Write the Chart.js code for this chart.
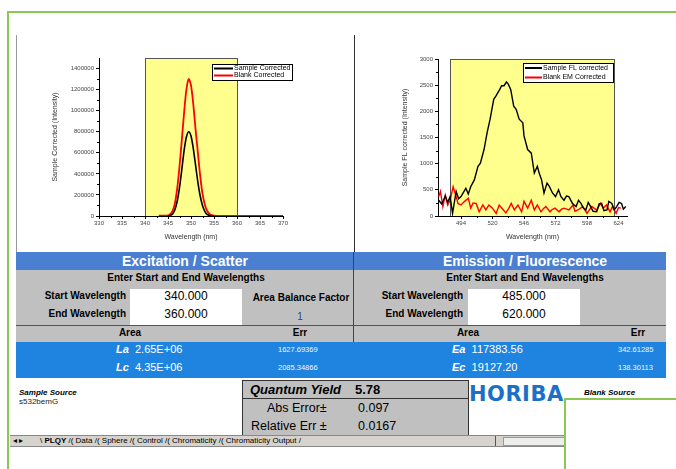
<!DOCTYPE html>
<html>
<head>
<meta charset="utf-8">
<script src="https://cdn.jsdelivr.net/npm/chart.js@4/dist/chart.umd.min.js"></script>
<style>
  body { margin: 0; width: 676px; height: 469px; position: relative; overflow: hidden; background: #fff;
         font-family: "Liberation Sans", Arial, sans-serif; color: #000; }
  .a { position: absolute; }
  .hdr { color: #fff; font-weight: bold; font-size: 14px; text-align: center; line-height: 18px; }
  .b10 { font-weight: bold; font-size: 10px; line-height: 12px; }
  .num { font-size: 12px; line-height: 14px; text-align: center; }
  .row { color: #fff; font-size: 11px; line-height: 13px; }
  .err { color: #f0f4ff; font-size: 7.5px; line-height: 9px; }
  .qy { font-size: 12.5px; line-height: 15px; }
  .tab { font-size: 8px; line-height: 10px; }
</style>
</head>
<body>

<!-- sheet frame -->
<div class="a" style="left:7px;top:11px;width:680px;height:470px;border-top:2px solid #8cc751;border-left:2px solid #8cc751;"></div>
<div class="a" style="left:16px;top:35px;width:1px;height:217px;background:#999;"></div>
<div class="a" style="left:354px;top:35px;width:1px;height:217px;background:#333;"></div>

<canvas id="exChart" class="a" width="336" height="215" style="left:17px;top:35px;"></canvas>
<canvas id="emChart" class="a" width="321" height="215" style="left:355px;top:35px;"></canvas>

<!-- header row -->
<div class="a" style="left:16px;top:252px;width:650px;height:18px;background:#4a7fd2;"></div>
<div class="a hdr" style="left:16px;top:252px;width:338px;">Excitation / Scatter</div>
<div class="a hdr" style="left:372px;top:252px;width:306px;">Emission / Fluorescence</div>

<!-- grey input block -->
<div class="a" style="left:16px;top:270px;width:650px;height:72px;background:#c0c0c0;"></div>
<div class="a" style="left:16px;top:325px;width:650px;height:1px;background:#555;"></div>
<div class="a" style="left:353px;top:252px;width:1px;height:90px;background:#444;"></div>
<div class="a b10" style="left:16px;top:272px;width:340px;text-align:center;">Enter Start and End Wavelengths</div>
<div class="a b10" style="left:372px;top:272px;width:306px;text-align:center;">Enter Start and End Wavelengths</div>

<div class="a" style="left:130px;top:289px;width:112px;height:36px;background:#fff;"></div>
<div class="a" style="left:468px;top:289px;width:112px;height:36px;background:#fff;"></div>

<div class="a b10" style="left:20px;top:290px;width:106px;text-align:right;">Start Wavelength</div>
<div class="a b10" style="left:20px;top:308px;width:106px;text-align:right;">End Wavelength</div>
<div class="a num" style="left:130px;top:289px;width:112px;">340.000</div>
<div class="a num" style="left:130px;top:307px;width:112px;">360.000</div>
<div class="a b10" style="left:246px;top:292px;width:110px;text-align:center;white-space:nowrap;">Area Balance Factor</div>
<div class="a" style="left:246px;top:311px;width:108px;text-align:center;font-size:10px;color:#2a4a80;">1</div>

<div class="a b10" style="left:358px;top:290px;width:105px;text-align:right;">Start Wavelength</div>
<div class="a b10" style="left:358px;top:308px;width:105px;text-align:right;">End Wavelength</div>
<div class="a num" style="left:468px;top:289px;width:112px;">485.000</div>
<div class="a num" style="left:468px;top:307px;width:112px;">620.000</div>

<div class="a b10" style="left:100px;top:327px;width:60px;text-align:center;">Area</div>
<div class="a b10" style="left:270px;top:327px;width:60px;text-align:center;">Err</div>
<div class="a b10" style="left:438px;top:327px;width:60px;text-align:center;">Area</div>
<div class="a b10" style="left:608px;top:327px;width:60px;text-align:center;">Err</div>

<!-- result rows -->
<div class="a" style="left:16px;top:342px;width:650px;height:36px;background:#1f84e0;"></div>
<div class="a row" style="left:116px;top:343px;"><b><i>La</i></b>&nbsp; 2.65E+06</div>
<div class="a row" style="left:116px;top:361px;"><b><i>Lc</i></b>&nbsp; 4.35E+06</div>
<div class="a err" style="left:278px;top:345px;">1627.69369</div>
<div class="a err" style="left:278px;top:363px;">2085.34866</div>
<div class="a row" style="left:452px;top:343px;"><b><i>Ea</i></b>&nbsp; 117383.56</div>
<div class="a row" style="left:452px;top:361px;"><b><i>Ec</i></b>&nbsp; 19127.20</div>
<div class="a err" style="left:618px;top:345px;">342.61285</div>
<div class="a err" style="left:618px;top:363px;">138.30113</div>

<!-- lower area -->
<div class="a" style="left:19px;top:388px;font-size:8px;font-weight:bold;font-style:italic;">Sample Source</div>
<div class="a" style="left:19px;top:397px;font-size:8px;color:#222;">s532bemG</div>

<div class="a" style="left:242px;top:380px;width:225px;height:55px;background:#c0c0c0;border:1px solid #333;"></div>
<div class="a" style="left:242px;top:398px;width:226px;height:1px;background:#333;"></div>
<div class="a qy" style="left:250px;top:382px;font-weight:bold;font-style:italic;font-size:13px;">Quantum Yield</div>
<div class="a qy" style="left:355px;top:382px;font-weight:bold;font-size:13px;">5.78</div>
<div class="a qy" style="left:267px;top:401px;">Abs Error±</div>
<div class="a qy" style="left:358px;top:401px;">0.097</div>
<div class="a qy" style="left:251px;top:419px;">Relative Err ±</div>
<div class="a qy" style="left:358px;top:419px;">0.0167</div>

<div class="a" style="left:469px;top:382px;font-family:'DejaVu Sans';font-size:21px;font-weight:bold;color:#1c6fc9;letter-spacing:0.5px;line-height:24px;">HORIBA</div>
<div class="a" style="left:584px;top:388px;font-size:8px;font-weight:bold;font-style:italic;">Blank Source</div>

<!-- sheet tabs -->
<div class="a" style="left:10px;top:435px;width:556px;height:10px;background:#d6d3ce;border-top:1px solid #888;border-bottom:1px solid #888;"></div>
<div class="a tab" style="left:13px;top:436px;">&#9666; &#9656;</div>
<div class="a tab" style="left:40px;top:436px;white-space:nowrap;">\ <b>PLQY</b> /( Data /( Sphere /( Control /( Chromaticity /( Chromaticity Output /</div>
<div class="a" style="left:495px;top:436px;width:1px;height:10px;background:#555;"></div>
<div class="a" style="left:503px;top:437px;width:70px;height:7px;background:#eee;border:1px solid #999;"></div>

<div class="a" style="left:564px;top:398px;width:120px;height:80px;background:#fff;border-top:2px solid #8cc751;border-left:2px solid #8cc751;"></div>

<script>
// excitation / scatter scan
const exSampleWl = [345, 345.5, 346, 346.5, 347, 347.5, 348, 348.5, 349, 349.5, 350, 350.5, 351, 351.5, 352, 352.5, 353, 353.5, 354, 354.5, 355];
const exSample   = [0, 5000, 20000, 60000, 140000, 270000, 440000, 620000, 750000, 800000, 760000, 640000, 480000, 320000, 190000, 100000, 45000, 15000, 5000, 0, 0];
const exBlankWl  = [343, 344, 345, 345.5, 346, 346.5, 347, 347.5, 348, 348.5, 349, 349.5, 350, 350.5, 351, 351.5, 352, 352.5, 353, 353.5, 354, 354.5, 355, 356, 360, 365, 370];
const exBlank    = [3000, 3000, 6000, 18000, 50000, 120000, 260000, 470000, 720000, 980000, 1200000, 1300000, 1240000, 1060000, 820000, 600000, 380000, 210000, 110000, 50000, 20000, 8000, 3000, 2000, 2000, 2000, 2000];
const exXTicks = [330, 335, 340, 345, 350, 355, 360, 365, 370];
const exYTicks = [0, 200000, 400000, 600000, 800000, 1000000, 1200000, 1400000];
const exWindow = [340, 360];

// emission / fluorescence scan
const emSampleWl = [475.6, 478, 481, 483, 485, 487, 490, 492, 494, 496, 498, 500, 502, 505, 508, 510, 513, 515.5, 518, 521, 523, 526, 527.5, 529.5, 531.5, 533, 535, 537.5, 539.5, 542, 545, 546, 549, 552, 554.5, 557, 558.5, 560.5, 562.5, 565, 567, 569.5, 572, 574.5, 576.5, 579, 581, 583, 586, 589, 591, 593, 595, 597, 599, 601, 603, 606, 608, 610, 612, 614.5, 616, 618.5, 620.5, 622.5, 624.5, 626.5, 628, 630];
const emSample   = [300, 230, 380, 260, 370, 50, 470, 330, 370, 450, 530, 420, 560, 690, 950, 1010, 1270, 1590, 1850, 2230, 2300, 2420, 2490, 2490, 2560, 2520, 2420, 2100, 2040, 1850, 1780, 1530, 1270, 1200, 820, 950, 820, 690, 440, 630, 560, 440, 370, 500, 370, 300, 380, 370, 240, 180, 300, 240, 150, 115, 260, 180, 90, 80, 230, 240, 100, 115, 280, 240, 120, 180, 260, 240, 130, 180];
const emBlankWl  = [475.6, 477, 479, 481, 483, 485, 487.5, 490, 491.5, 494, 497, 500, 502, 504, 506.5, 509, 512, 514.5, 517, 520, 523, 525.5, 529, 531, 533.5, 535.5, 538, 541, 544, 546, 549, 552, 554.5, 557, 560, 562, 564, 567.5, 569, 571.5, 575, 577, 579, 583, 586.5, 588, 590.5, 594.5, 598, 600, 602, 606, 609, 611.5, 614, 617, 619, 622, 624, 626];
const emBlank    = [370, 470, 180, 400, 210, 300, 560, 370, 240, 210, 280, 340, 150, 250, 240, 80, 210, 115, 210, 150, 50, 210, 115, 60, 150, 240, 115, 210, 80, 280, 150, 300, 115, 210, 80, 140, 180, 80, 120, 150, 80, 130, 150, 115, 210, 90, 115, 180, 50, 120, 180, 115, 240, 150, 210, 80, 180, 50, 160, 150];
const emXTicks = [494, 520, 546, 572, 598, 624];
const emYTicks = [0, 500, 1000, 1500, 2000, 2500, 3000];
const emWindow = [485, 620];

const pairs = (xs, ys) => xs.map((x, i) => ({ x: x, y: ys[i] }));

// yellow integration window behind the traces
const windowBand = {
    id: 'windowBand',
    beforeDraw(chart, args, opts) {
        const { ctx, scales: { x, y } } = chart;
        const l = Math.round(x.getPixelForValue(opts.from)) + 0.5;
        const r = Math.round(x.getPixelForValue(opts.to)) + 0.5;
        const t = Math.round(y.getPixelForValue(y.max)) + 0.5;
        const b = Math.round(y.getPixelForValue(y.min)) + 0.5;
        ctx.save();
        ctx.fillStyle = '#ffff8e';
        ctx.fillRect(l, t, r - l, b - t);
        ctx.strokeStyle = '#555';
        ctx.lineWidth = 1;
        ctx.strokeRect(l, t, r - l, b - t);
        ctx.restore();
    }
};

// short minor ticks half-way between the major ones
const minorTicks = {
    id: 'minorTicks',
    afterDraw(chart) {
        const { ctx, scales: { x, y } } = chart;
        ctx.save();
        ctx.strokeStyle = '#000';
        ctx.lineWidth = 1;
        ctx.beginPath();
        for (let i = 0; i < x.ticks.length - 1; i++) {
            const px = Math.round(x.getPixelForValue((x.ticks[i].value + x.ticks[i + 1].value) / 2)) + 0.5;
            ctx.moveTo(px, x.top);
            ctx.lineTo(px, x.top + 2);
        }
        for (let i = 0; i < y.ticks.length - 1; i++) {
            const py = Math.round(y.getPixelForValue((y.ticks[i].value + y.ticks[i + 1].value) / 2)) + 0.5;
            ctx.moveTo(y.right, py);
            ctx.lineTo(y.right - 2, py);
        }
        ctx.stroke();
        ctx.restore();
    }
};

// boxed legend inside the plot, Origin style
const boxLegend = {
    id: 'boxLegend',
    afterDraw(chart, args, o) {
        const ctx = chart.ctx;
        ctx.save();
        ctx.fillStyle = '#fff';
        ctx.fillRect(o.x, o.y, o.w, o.h);
        ctx.strokeStyle = '#000';
        ctx.lineWidth = 1;
        ctx.strokeRect(o.x + 0.5, o.y + 0.5, o.w, o.h);
        ctx.font = '7px "Liberation Sans"';
        ctx.textBaseline = 'middle';
        chart.data.datasets.forEach((ds, i) => {
            const yy = o.y + o.first + i * o.row;
            ctx.strokeStyle = ds.borderColor;
            ctx.lineWidth = 2;
            ctx.beginPath();
            ctx.moveTo(o.x + 2, yy);
            ctx.lineTo(o.x + 2 + o.line, yy);
            ctx.stroke();
            ctx.fillStyle = '#000';
            ctx.fillText(ds.label, o.x + 3 + o.line, yy);
        });
        ctx.restore();
    }
};

function axis(ticks, min, max, title, fixed, isY) {
    return {
        type: 'linear',
        min: min,
        max: max,
        afterBuildTicks: s => { s.ticks = ticks.map(v => ({ value: v })); },
        afterFit: s => { if (isY) s.width = fixed; else s.height = fixed; },
        ticks: {
            font: { size: 6, family: 'Liberation Sans' },
            color: '#444',
            padding: isY ? 2 : 1,
            maxRotation: 0,
            autoSkip: false,
            callback: v => String(v)
        },
        grid: { drawOnChartArea: false, drawTicks: true, tickLength: 3, color: '#000' },
        border: { color: '#000', width: 1 },
        title: {
            display: true,
            text: title,
            color: '#333',
            font: { size: 7, family: 'Liberation Sans' },
            padding: isY ? 0 : { top: 0, bottom: 9 }
        }
    };
}

new Chart(document.getElementById('exChart'), {
    type: 'line',
    data: {
        datasets: [
            { label: 'Sample Corrected', data: pairs(exSampleWl, exSample), borderColor: '#000', borderWidth: 1.6 },
            { label: 'Blank Corrected', data: pairs(exBlankWl, exBlank), borderColor: '#f00', borderWidth: 1.8 }
        ]
    },
    options: {
        responsive: false,
        animation: false,
        parsing: false,
        elements: { point: { radius: 0 }, line: { tension: 0.3 } },
        layout: { padding: { left: 34, top: 23, right: 70, bottom: 0 } },
        plugins: {
            legend: { display: false },
            tooltip: { enabled: false },
            windowBand: { from: exWindow[0], to: exWindow[1] },
            boxLegend: { x: 195, y: 29, w: 80, h: 16, first: 4.5, row: 7, line: 19 }
        },
        scales: {
            x: axis(exXTicks, 330, 370, 'Wavelength (nm)', 34, false),
            y: axis(exYTicks, 0, 1500000, 'Sample Corrected (Intensity)', 48, true)
        }
    },
    plugins: [windowBand, minorTicks, boxLegend]
});

new Chart(document.getElementById('emChart'), {
    type: 'line',
    data: {
        datasets: [
            { label: 'Sample FL corrected', data: pairs(emSampleWl, emSample), borderColor: '#000', borderWidth: 1.4 },
            { label: 'Blank EM Corrected', data: pairs(emBlankWl, emBlank), borderColor: '#f00', borderWidth: 1.4 }
        ]
    },
    options: {
        responsive: false,
        animation: false,
        parsing: false,
        elements: { point: { radius: 0 }, line: { tension: 0 } },
        layout: { padding: { left: 46, top: 24, right: 49, bottom: 0 } },
        plugins: {
            legend: { display: false },
            tooltip: { enabled: false },
            windowBand: { from: emWindow[0], to: emWindow[1] },
            boxLegend: { x: 168, y: 28, w: 90, h: 19, first: 5, row: 9.5, line: 17 }
        },
        scales: {
            x: axis(emXTicks, 475, 631, 'Wavelength (nm)', 34, false),
            y: axis(emYTicks, 0, 3000, 'Sample FL corrected (Intensity)', 37, true)
        }
    },
    plugins: [windowBand, minorTicks, boxLegend]
});
</script>
</body>
</html>
